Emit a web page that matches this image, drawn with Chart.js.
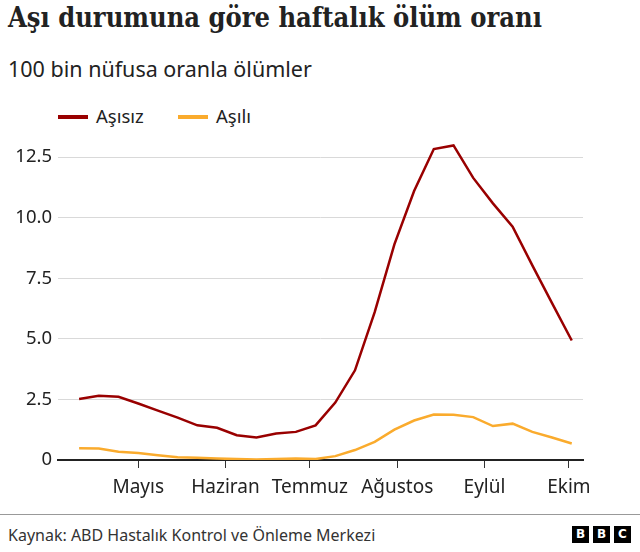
<!DOCTYPE html>
<html>
<head>
<meta charset="utf-8">
<script src="https://cdn.jsdelivr.net/npm/chart.js@4"></script>
<style>
  body { margin: 0; background: #fff; font-family: "Noto Sans", sans-serif; color: #222; }
  #wrap { position: relative; width: 640px; height: 552px; overflow: hidden; }
  #title { position: absolute; left: 8px; top: 2px; font: bold 27px "DejaVu Serif Condensed", "DejaVu Serif", serif; font-stretch: condensed; color: #222; white-space: nowrap; }
  #subtitle { position: absolute; left: 8px; top: 54px; font-size: 21.5px; color: #222; white-space: nowrap; }
  #legend { position: absolute; left: 58px; top: 103px; font-size: 18.5px; }
  .item { position: absolute; top: 0; white-space: nowrap; }
  .sw { position: absolute; top: 12px; width: 30px; height: 4px; }
  .lbl { position: absolute; left: 38px; top: 0; }
  #chartBox { position: absolute; left: 0; top: 123px; width: 640px; height: 378px; }
  #footer { position: absolute; left: 0; top: 514px; width: 640px; border-top: 1px solid #999; }
  #source { position: absolute; left: 8px; top: 9px; font-size: 16px; color: #333; white-space: nowrap; }
  #bbc { position: absolute; left: 572px; top: 11px; white-space: nowrap; }
  #bbc span { display: inline-block; width: 17px; height: 17px; margin-right: 4px; background: #000; color: #fff;
    font: bold 12px "DejaVu Sans", sans-serif; text-align: center; line-height: 17px; vertical-align: top; }
</style>
</head>
<body>
<div id="wrap">
  <div id="title">Aşı durumuna göre haftalık ölüm oranı</div>
  <div id="subtitle">100 bin nüfusa oranla ölümler</div>
  <div id="legend"></div>
  <div id="chartBox"><canvas id="myChart"></canvas></div>
  <div id="footer">
    <div id="source">Kaynak: ABD Hastalık Kontrol ve Önleme Merkezi</div>
    <div id="bbc"><span>B</span><span>B</span><span>C</span></div>
  </div>
</div>
<script>
/**
 *  ! Data
 * **/
const weeks = [
  "2021-04-10", "2021-04-17", "2021-04-24", "2021-05-01", "2021-05-08", "2021-05-15",
  "2021-05-22", "2021-05-29", "2021-06-05", "2021-06-12", "2021-06-19", "2021-06-26",
  "2021-07-03", "2021-07-10", "2021-07-17", "2021-07-24", "2021-07-31", "2021-08-07",
  "2021-08-14", "2021-08-21", "2021-08-28", "2021-09-04", "2021-09-11", "2021-09-18",
  "2021-09-25", "2021-10-02",
];
const unvaccinated = [
  2.52, 2.65, 2.61, 2.33, 2.04, 1.75, 1.43, 1.33, 1.02, 0.93, 1.09, 1.16, 1.43,
  2.37, 3.7, 6.1, 8.9, 11.1, 12.83, 12.98, 11.64, 10.59, 9.63, 8.03, 6.47, 4.93,
];
const vaccinated = [
  0.48, 0.47, 0.34, 0.29, 0.2, 0.11, 0.09, 0.06, 0.04, 0.02, 0.04, 0.06, 0.04,
  0.16, 0.41, 0.75, 1.25, 1.63, 1.88, 1.87, 1.77, 1.4, 1.5, 1.16, 0.93, 0.68,
];
const seriesNames = ["Aşısız", "Aşılı"];
const seriesColors = ["#990000", "#FAAB2D"];

const monthStarts = ["2021-05-01", "2021-06-01", "2021-07-01", "2021-08-01", "2021-09-01", "2021-10-01"];
const monthLabels = ["Mayıs", "Haziran", "Temmuz", "Ağustos", "Eylül", "Ekim"];

const yTicks = [0, 2.5, 5, 7.5, 10, 12.5];
const yTickLabels = ["0", "2.5", "5.0", "7.5", "10.0", "12.5"];

// days since the first week
const day0 = Date.parse(weeks[0]);
const toDay = (d) => (Date.parse(d) - day0) / 86400000;

/**
 *  ! Legend
 * **/
const legend = document.getElementById("legend");
const legendX = [0, 120];
seriesNames.forEach((name, i) => {
  const item = document.createElement("div");
  item.className = "item";
  item.style.left = legendX[i] + "px";
  item.innerHTML = '<div class="sw" style="background:' + seriesColors[i] + '"></div><div class="lbl">' + name + "</div>";
  legend.appendChild(item);
});

/**
 *  ! Chart
 * **/
const ctx = document.getElementById("myChart");

new Chart(ctx, {
  type: "line",
  data: {
    datasets: [
      {
        label: seriesNames[0],
        data: weeks.map((w, i) => ({ x: toDay(w), y: unvaccinated[i] })),
        borderColor: seriesColors[0],
        borderWidth: 2.5,
        pointRadius: 0,
        tension: 0,
      },
      {
        label: seriesNames[1],
        data: weeks.map((w, i) => ({ x: toDay(w), y: vaccinated[i] })),
        borderColor: seriesColors[1],
        borderWidth: 2.5,
        pointRadius: 0,
        tension: 0,
      },
    ],
  },
  options: {
    responsive: true,
    maintainAspectRatio: false,
    animation: false,
    layout: { padding: { top: 0, right: 57, left: 0, bottom: 0 } },
    scales: {
      x: {
        type: "linear",
        min: -7.5,
        max: 179,
        afterBuildTicks: (scale) => {
          scale.ticks = monthStarts.map((m) => ({ value: toDay(m) }));
        },
        afterFit: (scale) => {
          scale.height = 41;
        },
        ticks: {
          autoSkip: false,
          maxRotation: 0,
          padding: 8,
          color: "#222",
          font: { family: "Noto Sans", size: 19 },
          callback: (value, index) => monthLabels[index],
        },
        grid: {
          drawOnChartArea: false,
          drawTicks: true,
          tickLength: 8,
          color: "#333",
          lineWidth: 1,
        },
        border: { display: true, color: "#222", width: 2 },
      },
      y: {
        min: 0,
        max: 13.2,
        afterBuildTicks: (scale) => {
          scale.ticks = yTicks.map((v) => ({ value: v }));
        },
        afterFit: (scale) => {
          scale.width = 58;
        },
        ticks: {
          padding: 6,
          color: "#222",
          font: { family: "Noto Sans", size: 18.5 },
          callback: (value, index) => yTickLabels[index],
        },
        grid: {
          drawTicks: false,
          color: "#d9d9d9",
          lineWidth: 1,
        },
        border: { display: false },
      },
    },
    plugins: {
      legend: { display: false },
      tooltip: { enabled: false },
    },
  },
});
</script>
</body>
</html>
